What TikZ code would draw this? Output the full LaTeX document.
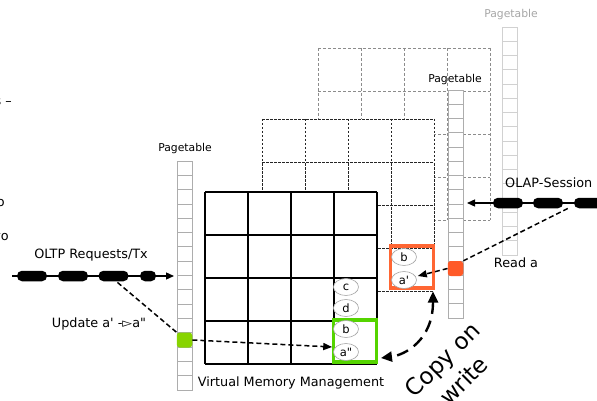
\documentclass[tikz,border=0pt]{standalone}
\usepackage{fontspec}
\setmainfont{DejaVu Sans}
\usetikzlibrary{arrows.meta,shapes.geometric,calc}
\definecolor{cowgreen}{HTML}{55D400}
\definecolor{cellgreen}{HTML}{88D400}
\definecolor{coworange}{HTML}{FF6633}
\definecolor{cellorange}{HTML}{FF5A28}
\tikzset{
  lbl/.style={inner sep=0pt, font=\fontsize{12.8}{15}\selectfont},
  ptlbl/.style={inner sep=0pt, font=\fontsize{10.8}{13}\selectfont},
  frontgrid/.style={line width=1.2pt, black},
  midgrid/.style={line width=0.9pt, black!85, dash pattern=on 2.5pt off 1.5pt},
  backgrid/.style={line width=0.7pt, black!45, dash pattern=on 3pt off 2pt},
  ptcell/.style={draw=black!32, line width=0.8pt, fill=white},
  ptcellb/.style={draw=black!18, line width=0.8pt, fill=white},
  pill/.style={fill=black, rounded corners=5pt, minimum height=10.5pt, inner sep=0pt},
  ell/.style={ellipse, draw=black!35, line width=0.6pt, fill=white, minimum width=25pt, minimum height=17pt, inner sep=0pt, font=\fontsize{11.5}{13}\selectfont},
  conn/.style={line width=1.3pt, black},
  dconn/.style={line width=1.5pt, black, dash pattern=on 5pt off 3pt},
  tip/.style={-{Triangle[length=9pt,width=7pt]}},
  cowbox/.style={draw=#1, line width=3.5pt, minimum width=43pt, minimum height=42pt, inner sep=0pt, outer sep=0pt},
  cellmark/.style={fill=#1, rounded corners=3pt, minimum width=15.5pt, minimum height=15pt, inner sep=0pt},
}
\begin{document}
\begin{tikzpicture}[x=1pt,y=-1pt]
\useasboundingbox (0,0) rectangle (597,401);
% ---- back layer (third grid) ----
\fill[white] (318,48) rectangle (490,220);
\foreach \i in {0,...,4} {
  \draw[backgrid] (318+\i*43,48) -- (318+\i*43,220);
  \draw[backgrid] (318,48+\i*43) -- (490,48+\i*43);
}
\node[ptlbl, text=black!35] (ptl3) at (511,15) {Pagetable};
\foreach \k in {0,...,15} \draw[ptcellb] (502,27+\k*14.25) rectangle ++(15,14.25);
% ---- middle layer (second grid) ----
\node[ptlbl] (ptl2) at (455,80) {Pagetable};
\foreach \k in {0,...,15} \draw[ptcell] (448,90+\k*14.25) rectangle ++(15,14.25);
\fill[white] (262,119) rectangle (434,291);
\foreach \i in {0,...,4} {
  \draw[midgrid] (262+\i*43,119) -- (262+\i*43,291);
  \draw[midgrid] (262,119+\i*43) -- (434,119+\i*43);
}
% ---- front layer ----
\fill[white] (205,192) rectangle (377,364);
\foreach \i in {0,...,4} {
  \draw[frontgrid] (205+\i*43,192) -- (205+\i*43,364);
  \draw[frontgrid] (205,192+\i*43) -- (377,192+\i*43);
}
\node[ptlbl] (ptl1) at (185,149) {Pagetable};
\foreach \k in {0,...,15} \draw[ptcell] (177,161+\k*14.3125) rectangle ++(15,14.3125);
\node[lbl] (vmm) at (291,383) {Virtual Memory Management};
% ---- marked page-table cells ----
\node[cellmark=cellgreen] (gcell) at (184.5,340) {};
\node[cellmark=cellorange] (ocell) at (455.5,268.5) {};
% ---- copy-on-write boxes ----
\node[cowbox=coworange] (obox) at (412,267) {};
\node[cowbox=cowgreen] (gbox) at (355,341) {};
\node[ell] (c) at (346,287) {c};
\node[ell] (d) at (346,308) {d};
\node[ell] (gb) at (346,329) {b};
\node[ell] (app) at (346,352) {a\textquotedbl};
\node[ell] (ob) at (404,257) {b};
\node[ell] (ap) at (404,280) {a\textquotesingle};
% ---- OLTP stream ----
\node[lbl] (oltp) at (91,255) {OLTP Requests/Tx};
\coordinate (oltpS) at (12,276);
\coordinate (oltpE) at (174,276);
\draw[conn,-{Triangle[length=8pt,width=7pt]}] (oltpS) -- (oltpE);
\node[pill, minimum width=30pt] (p1) at (32,276) {};
\node[pill, minimum width=30pt] (p2) at (73,276) {};
\node[pill, minimum width=30pt] (p3) at (113.5,276) {};
\node[pill, minimum width=16pt] (p4) at (148,276) {};
\node[lbl] (upd) at (99,324) {Update a\textquotesingle\ -▻a\textquotedbl};
\draw[dconn] ($(p3.south)+(4,1)$) -- (gcell.north west);
\draw[dconn,tip] (gcell.east) -- ($(app.west)+(-1,-5)$);
% ---- OLAP stream ----
\node[lbl, anchor=west] (olap) at (505,183) {OLAP-Session};
\coordinate (olapS) at (610,203);
\coordinate (olapE) at (467,203);
\draw[conn,-{Triangle[length=8pt,width=7pt]}] (olapS) -- (olapE);
\node[pill, minimum width=30pt] (q1) at (508,203) {};
\node[pill, minimum width=30pt] (q2) at (548,203) {};
\node[pill, minimum width=30pt] (q3) at (589,203) {};
\node[lbl] (reada) at (516,263) {Read a};
\draw[dconn] ($(q3.south west)+(-6,0)$) -- (ocell.north east);
\draw[dconn,tip] (ocell.west) -- ($(ap.east)+(1,-4)$);
% ---- copy on write ----
\coordinate (cowA) at ($(obox.south east)+(-0.5,3.5)$);
\coordinate (cowB) at ($(gbox.south east)+(4.5,-4)$);
\draw[line width=2.4pt, dash pattern=on 12pt off 7pt,
  {Triangle[length=11pt,width=10pt]}-{Triangle[length=11pt,width=10pt]}]
  (cowA) .. controls (433,340) and (405,355) .. (cowB);
\node[rotate=45, align=center, inner sep=0pt, font=\fontsize{23}{30}\selectfont] (cow) at (453,370) {Copy on\\write};
% ---- cut-off text at left edge ----
\node[lbl, anchor=east] (f1) at (12,102) {s –};
\node[lbl, anchor=east] (f2) at (5,203) {o};
\node[lbl, anchor=east] (f3) at (9,237) {vo};
\end{tikzpicture}
\end{document}
